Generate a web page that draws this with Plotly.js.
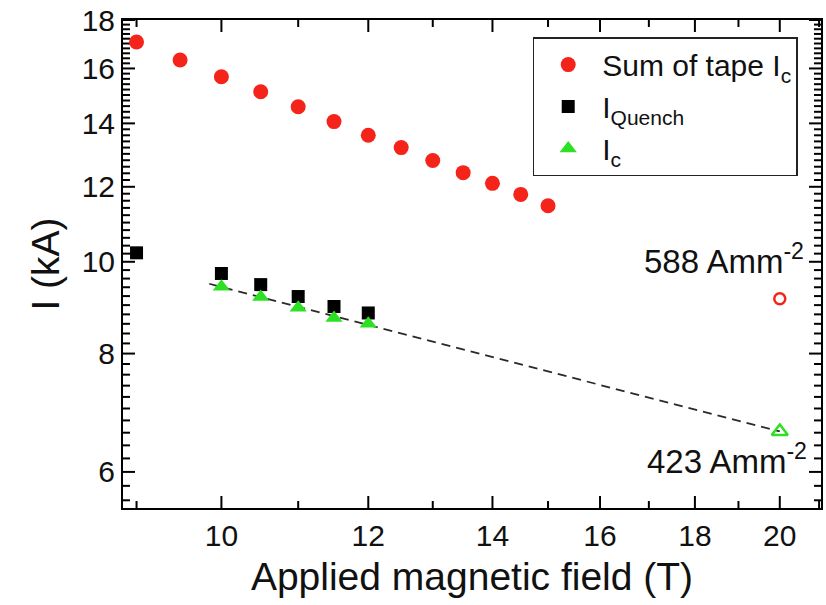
<!DOCTYPE html>
<html>
<head>
<meta charset="utf-8">
<script src="https://cdn.plot.ly/plotly-3.0.1.min.js"></script>
<style>
  html, body { margin: 0; padding: 0; background: #ffffff; }
  #chart { width: 826px; height: 605px; }
</style>
</head>
<body>
<div id="chart"></div>
<script>
// Sum of single-tape critical currents versus field
const fieldSum = [9, 9.5, 10, 10.5, 11, 11.5, 12, 12.5, 13, 13.5, 14, 14.5, 15];
const sumTapeIc = [17.06, 16.33, 15.68, 15.12, 14.58, 14.06, 13.60, 13.20, 12.79, 12.42, 12.10, 11.78, 11.46];

// Cable quench current
const fieldQuench = [9, 10, 10.5, 11, 11.5, 12];
const iQuench = [10.22, 9.72, 9.46, 9.19, 8.97, 8.83];

// Cable critical current
const fieldIc = [10, 10.5, 11, 11.5, 12];
const iCable = [9.41, 9.18, 8.94, 8.72, 8.60];

// Extrapolated values at 20 T
const fieldExtra = [20];
const sumTapeIc20 = [9.14];
const iCable20 = [6.62];

// Fit through the cable Ic, extended to 20 T
const fitField = [9.85, 20];
const fitCurrent = [9.48, 6.62];

// Current density labels
const labelSum20 = '588 Amm<sup>-2</sup>';
const labelIc20 = '423 Amm<sup>-2</sup>';

// Axis ticks
const xTicks = [10, 12, 14, 16, 18, 20];
const xMinor = [9, 11, 13, 15, 17, 19, 21];
const yTicks = [6, 8, 10, 12, 14, 16, 18];
const yMinor = [];
for (let k = 28; k <= 90; k++) {
  const v = Math.round(k * 2) / 10;
  if (!yTicks.includes(v)) yMinor.push(v);
}

const FONT = 'Liberation Sans, Arial, Helvetica, sans-serif';
const RED = '#f5241a';
const GREEN = '#2ee024';
const X_LO = 8.85, X_HI = 21.05;
const Y_LO = 5.496, Y_HI = 18;
const X_RANGE = [Math.log10(X_LO), Math.log10(X_HI)];
const Y_RANGE = [Math.log10(Y_LO), Math.log10(Y_HI)];
const MARGIN = { l: 123, r: 5, t: 20, b: 97 };
const W = 826, H = 605;
const PLOT_W = W - MARGIN.l - MARGIN.r;
const PLOT_H = H - MARGIN.t - MARGIN.b;
const MAJOR_LEN = 12;
const MINOR_LEN = 7;

// Inward tick marks on all four sides, as segments on the main log axes.
// A length in pixels becomes a multiplicative step along a log axis.
const xStep = px => Math.pow(10, px / PLOT_W * (X_RANGE[1] - X_RANGE[0]));
const yStep = px => Math.pow(10, px / PLOT_H * (Y_RANGE[1] - Y_RANGE[0]));
const tickX = [], tickY = [];
function seg(x0, y0, x1, y1) { tickX.push(x0, x1, null); tickY.push(y0, y1, null); }
function xTick(v, len) {
  seg(v, Y_LO, v, Y_LO * yStep(len));
  seg(v, Y_HI, v, Y_HI / yStep(len));
}
function yTick(v, len) {
  seg(X_LO, v, X_LO * xStep(len), v);
  seg(X_HI, v, X_HI / xStep(len), v);
}
xTicks.forEach(v => xTick(v, MAJOR_LEN));
xMinor.forEach(v => xTick(v, MINOR_LEN));
yTicks.forEach(v => yTick(v, MAJOR_LEN));
yMinor.forEach(v => yTick(v, MINOR_LEN));

const traces = [
  {
    x: tickX, y: tickY, mode: 'lines', connectgaps: false,
    line: { color: '#000000', width: 2 }, showlegend: false, hoverinfo: 'skip'
  },
  {
    x: fitField, y: fitCurrent, mode: 'lines', showlegend: false, hoverinfo: 'skip',
    line: { color: '#2a2a2a', width: 1.8, dash: '9px,6px' }
  },
  {
    x: fieldSum, y: sumTapeIc, mode: 'markers', name: 'Sum of tape I<sub>c</sub>',
    marker: { symbol: 'circle', size: 15, color: RED }
  },
  {
    x: fieldQuench, y: iQuench, mode: 'markers', name: 'I<sub>Quench</sub>',
    marker: { symbol: 'square', size: 13, color: '#000000' }
  },
  {
    x: fieldIc, y: iCable, mode: 'markers', name: 'I<sub>c</sub>',
    marker: { symbol: 'triangle-up', size: 15, color: GREEN }
  },
  {
    x: fieldExtra, y: sumTapeIc20, mode: 'markers', showlegend: false,
    marker: { symbol: 'circle-open', size: 11, color: RED, line: { width: 2.5, color: RED } }
  },
  {
    x: fieldExtra, y: iCable20, mode: 'markers', showlegend: false,
    marker: { symbol: 'triangle-up-open', size: 14, color: GREEN, line: { width: 2.5, color: GREEN } }
  }
];

const layout = {
  width: W, height: H,
  margin: MARGIN,
  paper_bgcolor: '#ffffff', plot_bgcolor: '#ffffff',
  font: { family: FONT, color: '#111111' },
  xaxis: {
    type: 'log', range: X_RANGE,
    tickmode: 'array', tickvals: xTicks, ticktext: xTicks.map(String), ticks: '',
    showline: true, linecolor: '#000000', linewidth: 2, mirror: true,
    showgrid: false, zeroline: false,
    tickfont: { family: FONT, size: 30, color: '#111111' },
    title: { text: 'Applied magnetic field (T)', font: { family: FONT, size: 39, color: '#111111' }, standoff: 12 }
  },
  yaxis: {
    type: 'log', range: Y_RANGE,
    tickmode: 'array', tickvals: yTicks, ticktext: yTicks.map(String), ticks: '',
    showline: true, linecolor: '#000000', linewidth: 2, mirror: true,
    showgrid: false, zeroline: false,
    tickfont: { family: FONT, size: 30, color: '#111111' },
    title: { text: 'I (kA)', font: { family: FONT, size: 39, color: '#111111' }, standoff: 10 }
  },
  legend: {
    x: 0.587, y: 0.965, xanchor: 'left', yanchor: 'top',
    bgcolor: '#ffffff', bordercolor: '#222222', borderwidth: 1.5,
    font: { family: FONT, size: 30, color: '#111111' },
    tracegroupgap: 0, itemwidth: 58
  },
  annotations: [
    {
      x: Math.log10(fieldExtra[0]), y: Math.log10(sumTapeIc20[0]), xref: 'x', yref: 'y',
      text: labelSum20, showarrow: false, xanchor: 'right', yanchor: 'middle',
      xshift: 26, yshift: 40, font: { family: FONT, size: 33, color: '#111111' }
    },
    {
      x: Math.log10(fieldExtra[0]), y: Math.log10(iCable20[0]), xref: 'x', yref: 'y',
      text: labelIc20, showarrow: false, xanchor: 'right', yanchor: 'middle',
      xshift: 29, yshift: -28, font: { family: FONT, size: 33, color: '#111111' }
    }
  ]
};

Plotly.newPlot('chart', traces, layout, { displayModeBar: false, staticPlot: true });
</script>
</body>
</html>
